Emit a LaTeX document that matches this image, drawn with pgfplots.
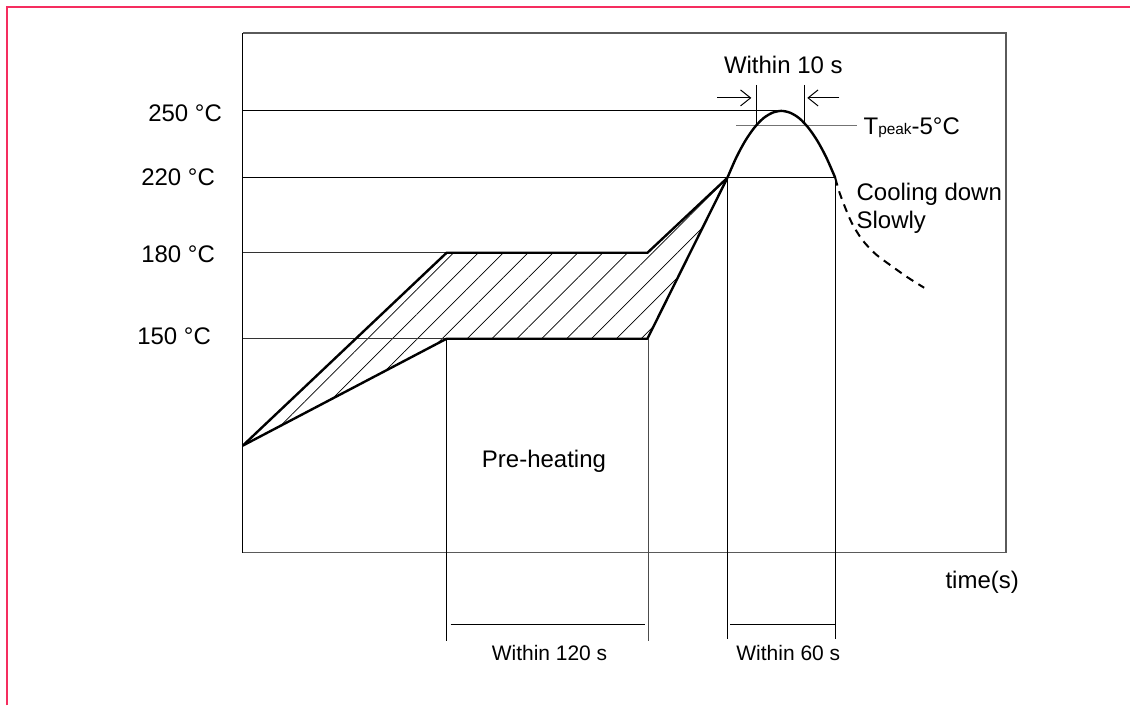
\documentclass[border=0pt]{standalone}
\usepackage{fontspec}
\setmainfont{Liberation Sans}
\usepackage{pgfplots}
\pgfplotsset{compat=1.18}
\usetikzlibrary{patterns.meta,arrows.meta}
\definecolor{pinkc}{RGB}{245,45,95}
\definecolor{framec}{RGB}{90,90,90}
\newcommand\fs{\fontsize{12}{14}\selectfont}
\newcommand\fsb{\fontsize{10.5}{12}\selectfont}
\newcommand\fsub{\fontsize{7.7}{9}\selectfont}
\begin{document}
\begin{tikzpicture}
\begin{axis}[scale only axis, width=565.5pt, height=353pt,
  xmin=0, xmax=1131, ymin=0, ymax=706, y dir=reverse,
  axis lines=none, clip=false]
\path (axis cs:0,0) rectangle (axis cs:1131,706);
% pink border
\addplot[pinkc, line width=1pt] coordinates {(7,706) (7,7) (1131,7)};
% hatched region
\addplot[draw=none, pattern={Lines[angle=45,distance=8.8pt,line width=0.35pt]}] coordinates {
(243,446) (447,253) (648,253) (728,178) (648,339) (447,339) (243,446)};
% frame
\addplot[framec, line width=0.7pt] coordinates {(243,33) (1007,33) (1007,553) (243,553)};
\addplot[black, line width=0.7pt] coordinates {(243,553) (243,33)};
% guide lines
\addplot[black, line width=0.5pt] coordinates {(243,111) (782,111)};
\addplot[black, line width=0.5pt] coordinates {(243,178) (837,178)};
\addplot[black!80, line width=0.5pt] coordinates {(243,253) (648,253)};
\addplot[black!80, line width=0.5pt] coordinates {(243,339) (447,339)};
\addplot[black, line width=0.5pt] coordinates {(447,339) (447,642)};
\addplot[black!70, line width=0.6pt] coordinates {(649,339) (649,642)};
\addplot[black, line width=0.5pt] coordinates {(728,178) (728,640)};
\addplot[black, line width=0.5pt] coordinates {(836,178) (836,640)};
\addplot[black, line width=0.5pt] coordinates {(451,625) (646,625)};
\addplot[black, line width=0.5pt] coordinates {(731,625) (836,625)};
% within 10 s markers
\addplot[black, line width=0.5pt] coordinates {(757,85) (757,126)};
\addplot[black, line width=0.5pt] coordinates {(805,85) (805,126)};
\addplot[black!55, line width=0.6pt] coordinates {(737,126) (858,126)};
\addplot[black, line width=0.5pt, -{Straight Barb[length=5pt,width=8pt]}] coordinates {(718,98) (752,98)};
\addplot[black, line width=0.5pt, -{Straight Barb[length=5pt,width=8pt]}] coordinates {(840,98) (808,98)};
% profile
\addplot[black, line width=1.2pt, line join=round] coordinates {(243,446) (447,253) (648,253) (728,178)};
\addplot[black, line width=1.2pt, line join=round] coordinates {(243,446) (447,339) (648,339) (728,178)};
\addplot[black, line width=1.2pt, smooth] coordinates {
(728,178) (737,157.5) (746,140.8) (755,127.8) (764,118.4) (773,112.9) (782,111)
(791,112.9) (800,118.4) (809,127.8) (818,140.8) (827,157.5) (836,178)};
\addplot[black, line width=1pt, smooth, dash pattern=on 4pt off 3pt] coordinates {
(836,178) (840,192) (846,208) (853,224) (863,240) (876,254) (892,266) (909,278) (925,288)};
% texts
\node[anchor=base west, font=\fs, inner sep=0pt] at (axis cs:148,121.7) {250 °C};
\node[anchor=base west, font=\fs, inner sep=0pt] at (axis cs:141,186) {220 °C};
\node[anchor=base west, font=\fs, inner sep=0pt] at (axis cs:141,262.3) {180 °C};
\node[anchor=base west, font=\fs, inner sep=0pt] at (axis cs:137,345) {150 °C};
\node[anchor=base, font=\fs, inner sep=0pt] at (axis cs:784,74) {Within 10 s};
\node[anchor=base west, font=\fs, inner sep=0pt] at (axis cs:864,135) {T{\fsub peak}-5°C};
\node[anchor=base west, font=\fs, inner sep=0pt] at (axis cs:857,200.7) {Cooling down};
\node[anchor=base west, font=\fs, inner sep=0pt] at (axis cs:857,228.3) {Slowly};
\node[anchor=base west, font=\fs, inner sep=0pt] at (axis cs:482,468) {Pre-heating};
\node[anchor=base west, font=\fs, inner sep=0pt] at (axis cs:946,589) {time(s)};
\node[anchor=base, font=\fsb, inner sep=0pt] at (axis cs:550,660.7) {Within 120 s};
\node[anchor=base, font=\fsb, inner sep=0pt] at (axis cs:789,660.7) {Within 60 s};
\end{axis}
\end{tikzpicture}
\end{document}
